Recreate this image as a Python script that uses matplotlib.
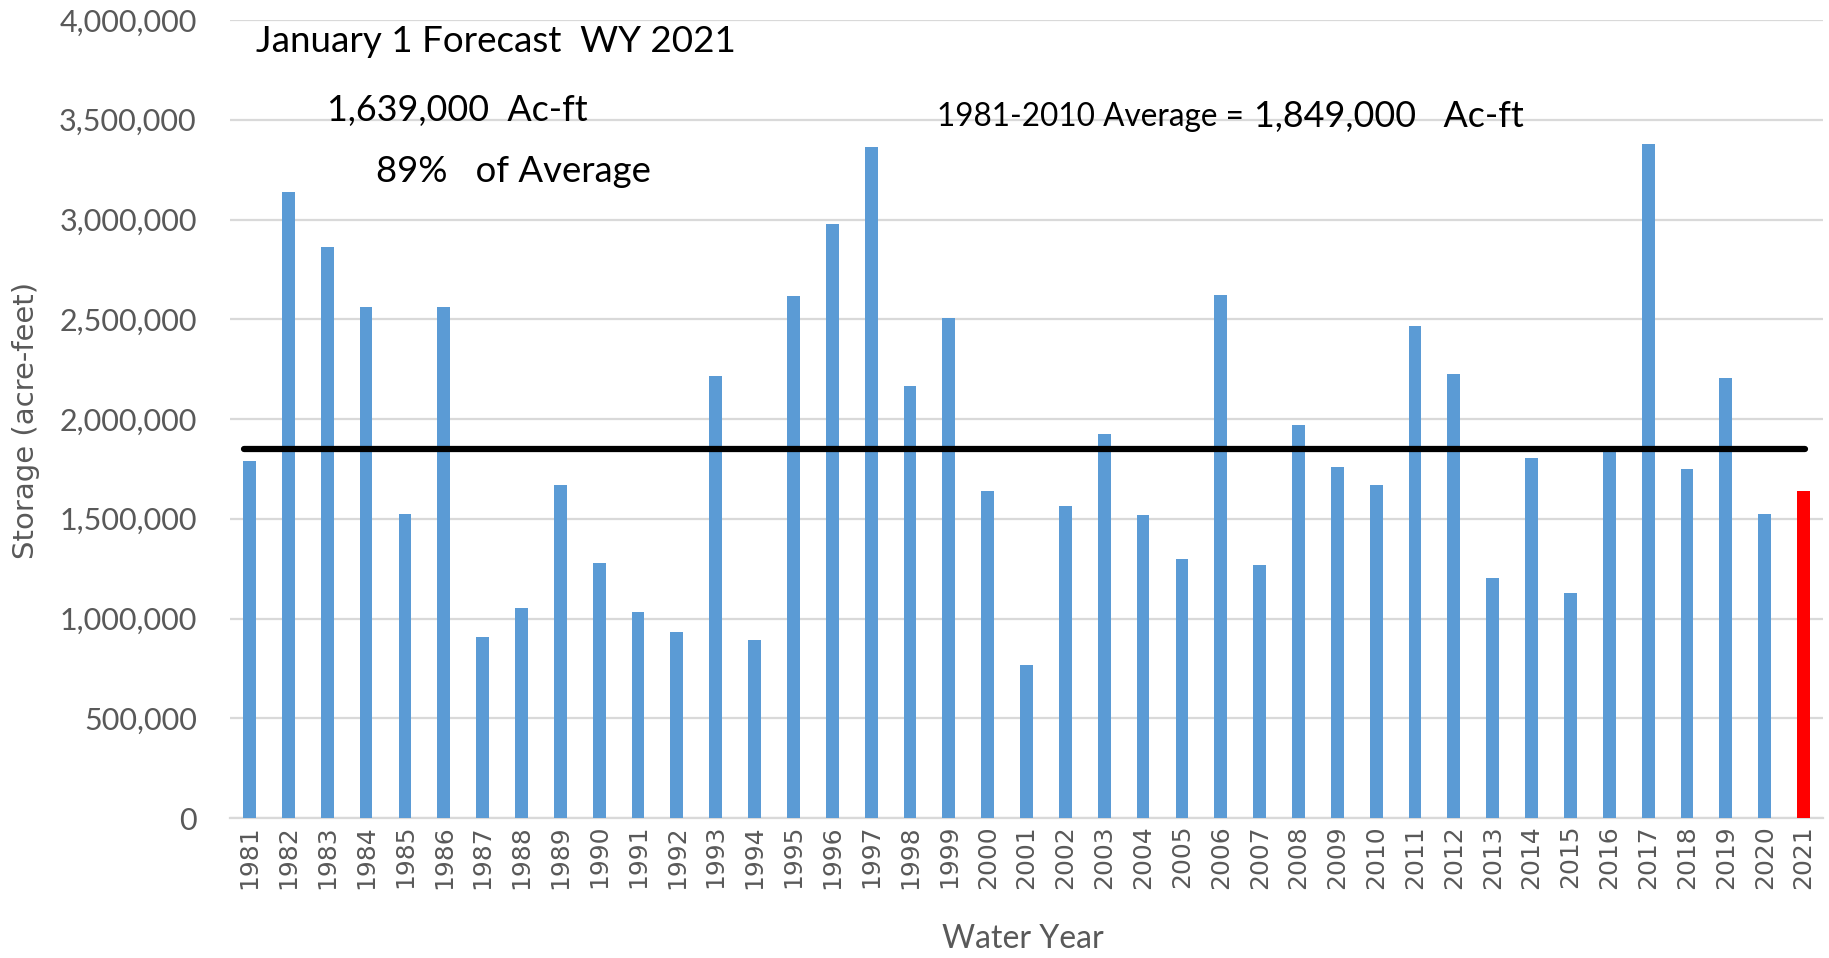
import numpy as np
import matplotlib
matplotlib.use('Agg')
import matplotlib.pyplot as plt
from matplotlib.ticker import FuncFormatter

# water years and Jan 1 forecast storage (acre-feet)
years = list(range(1981, 2022))
storage = [1790000, 3140000, 2860000, 2560000, 1526000, 2560000, 905000, 1051000,
           1671000, 1279000, 1031000, 931000, 2218000, 891000, 2619000, 2980000,
           3366000, 2166000, 2504000, 1638000, 766000, 1566000, 1927000, 1519000,
           1299000, 2624000, 1270000, 1972000, 1758000, 1671000, 2465000, 2225000,
           1205000, 1805000, 1130000, 1835000, 3379000, 1752000, 2206000, 1526000,
           1639000]
average = 1849000
forecast_year = 2021

narrow = ['Lato', 'DejaVu Sans']
grey = '#595959'

fig = plt.figure(figsize=(18.29, 9.58), dpi=100)
ax = fig.add_axes([0.1258, 0.1461, 0.8709, 0.833])

x = np.arange(len(years))
colors = ['#FF0000' if y == forecast_year else '#5B9BD5' for y in years]
ax.bar(x, storage, width=0.33, color=colors, zorder=3)

# 1981-2010 average line
ax.hlines(average, x[0] - 0.15, x[-1] + 0.05, color='black', linewidth=4.5,
          capstyle='round', zorder=4)

ax.set_xlim(-0.5, len(years) - 0.5)
ax.set_ylim(0, 4000000)
ax.set_yticks(np.arange(0, 4000001, 500000))
ax.yaxis.set_major_formatter(FuncFormatter(lambda v, p: f'{int(v):,}'))
ax.grid(axis='y', color='#D9D9D9', linewidth=1.6, zorder=0)
for s in ['top', 'right', 'left']:
    ax.spines[s].set_visible(False)
ax.spines['bottom'].set_color('#D9D9D9')
ax.spines['bottom'].set_linewidth(1.6)
ax.tick_params(axis='both', length=0, colors=grey)

ax.set_xticks(x)
ax.set_xticklabels([str(y) for y in years], rotation=90, fontsize=18,
                   family='DejaVu Sans', color=grey)
for lbl in ax.get_yticklabels():
    lbl.set_family(narrow)
    lbl.set_fontsize(22)
    lbl.set_color(grey)
ax.tick_params(axis='y', pad=24)
ax.tick_params(axis='x', pad=5)

fig.text(26 / 1829, 1 - 420 / 958, 'Storage (acre-feet)', fontsize=21,
         family='DejaVu Sans', color=grey, rotation=90, ha='center', va='center')
fig.text(0.5593, 1 - 939 / 958, 'Water Year', fontsize=23, family=narrow,
         color=grey, ha='center', va='center')

# annotations
fig.text(256 / 1829, 1 - 41 / 958, 'January 1 Forecast  WY 2021', fontsize=26.5,
         family=narrow, va='center', ha='left')
fig.text(327 / 1829, 1 - 111 / 958, '1,639,000  Ac-ft', fontsize=25.8,
         family=narrow, va='center', ha='left')
fig.text(376 / 1829, 1 - 172 / 958, '89%   of Average', fontsize=26.3,
         family=narrow, va='center', ha='left')
fig.text(937 / 1829, 1 - 117 / 958, '1981-2010 Average =', fontsize=22.7,
         family=narrow, va='center', ha='left')
fig.text(1254 / 1829, 1 - 117 / 958, '1,849,000   Ac-ft', fontsize=25.8,
         family=narrow, va='center', ha='left')

fig.savefig('out.png', dpi=100)
